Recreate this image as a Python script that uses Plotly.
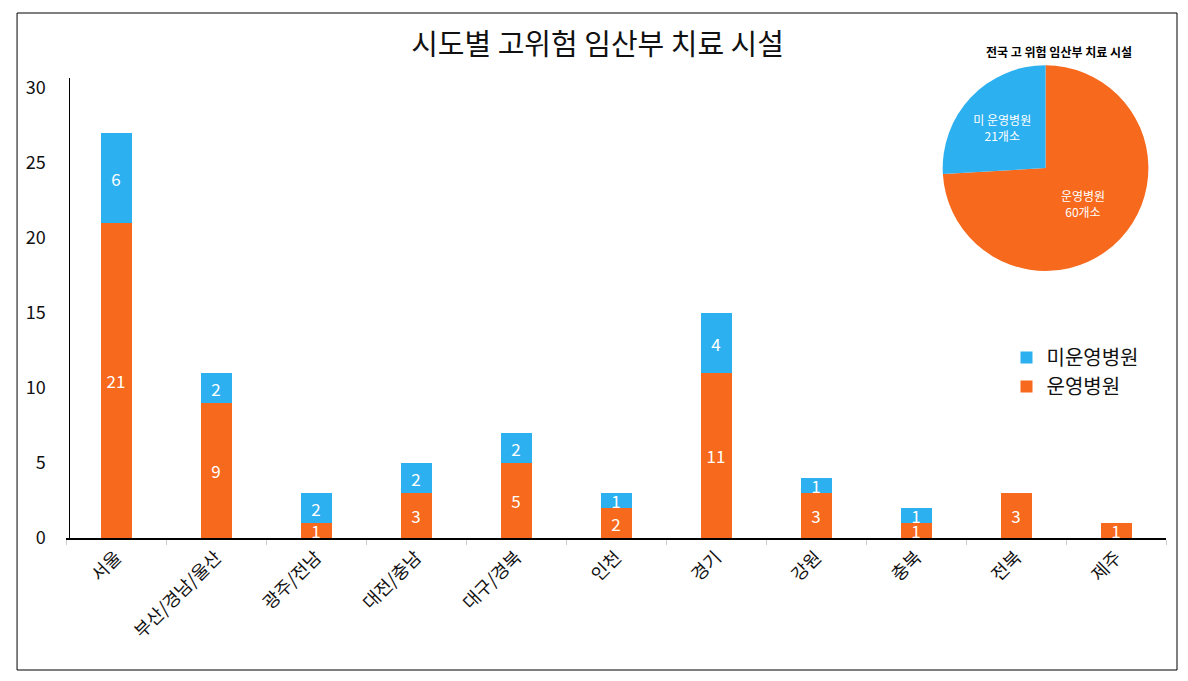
import plotly.graph_objects as go

# 시도별 데이터
regions = ['서울', '부산/경남/울산', '광주/전남', '대전/충남', '대구/경북', '인천',
           '경기', '강원', '충북', '전북', '제주']
operating = [21, 9, 1, 3, 5, 2, 11, 3, 1, 3, 1]
not_operating = [6, 2, 2, 2, 2, 1, 4, 1, 1, 0, 0]

# 전국 합계 (pie)
pie_labels = ['운영병원', '미 운영병원']
pie_values = [60, 21]
pie_text = ['운영병원<br>60개소', '미 운영병원<br>21개소']

ORANGE = '#F7691C'
BLUE = '#2DB0EF'
FONT = 'Noto Sans CJK KR'

fig = go.Figure()

fig.add_trace(go.Bar(x=regions, y=operating, name='운영병원', legendgroup='a',
                     marker=dict(color=ORANGE, line=dict(width=0)),
                     text=[str(v) if v else '' for v in operating],
                     textposition='inside', insidetextanchor='middle',
                     constraintext='none', textangle=0,
                     textfont=dict(color='white', size=17, family=FONT),
                     width=0.31))

fig.add_trace(go.Bar(x=regions, y=not_operating, name='미운영병원', legendgroup='b',
                     marker=dict(color=BLUE, line=dict(width=0)),
                     text=[str(v) if v else '' for v in not_operating],
                     textposition='inside', insidetextanchor='middle',
                     constraintext='none', textangle=0,
                     textfont=dict(color='white', size=17, family=FONT),
                     width=0.31))

fig.add_trace(go.Pie(labels=pie_labels, values=pie_values, text=pie_text,
                     textinfo='text', textposition='inside',
                     insidetextorientation='horizontal',
                     sort=False, direction='clockwise', rotation=0,
                     marker=dict(colors=[ORANGE, BLUE], line=dict(width=0)),
                     textfont=dict(color='white', size=12, family=FONT),
                     domain=dict(x=[0.797, 0.984], y=[0.547, 0.969]),
                     showlegend=False, hoverinfo='label+value'))

fig.update_layout(
    width=1188, height=681,
    margin=dict(l=66, r=22, t=50, b=143),
    barmode='stack',
    paper_bgcolor='white', plot_bgcolor='white',
    font=dict(family=FONT, color='black'),
    title=dict(text='시도별 고위험 임산부 치료 시설', x=0.503, xanchor='center',
               y=1 - 45 / 681, yanchor='middle',
               font=dict(size=29, family=FONT, color='#111')),
    legend=dict(x=0.855, y=0.41, xanchor='left', yanchor='top',
                traceorder='reversed', tracegroupgap=8,
                font=dict(size=20, family=FONT, color='#111'),
                bgcolor='rgba(0,0,0,0)', itemwidth=30),
    showlegend=True,
)

fig.update_xaxes(showline=True, linecolor='black', linewidth=1.5,
                 tickson='boundaries', ticks='outside', tickcolor='#cccccc',
                 ticklen=5, tickangle=-45,
                 tickfont=dict(size=18, family=FONT, color='#111'))

fig.update_yaxes(range=[0, 30.67], domain=[0, 0.9426], dtick=5,
                 anchor='free', position=0.003,
                 showline=True, linecolor='black', linewidth=1,
                 showgrid=False, zeroline=False, ticks='',
                 tickfont=dict(size=18, family=FONT, color='#111'),
                 ticklabelstandoff=20)

# 작은 pie 제목
fig.add_annotation(text='<b>전국 고 위험 임산부 치료 시설</b>', xref='paper', yref='paper',
                   x=0.9027, y=0.996, xanchor='center', yanchor='middle',
                   showarrow=False,
                   font=dict(size=12, family=FONT, color='black'))

# 외곽 테두리
fig.add_shape(type='rect', xref='paper', yref='paper',
              x0=-0.0445, x1=1.0100, y0=-0.2705, y1=1.0758,
              line=dict(color='black', width=1))

# body 기본 여백 제거
fig.write_html('out.html', config={'displayModeBar': False},
               post_script="document.body.style.margin='0';")
